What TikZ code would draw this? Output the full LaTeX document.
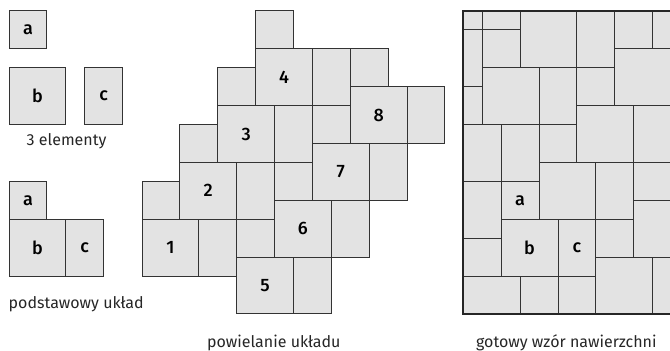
\documentclass[tikz,border=0pt]{standalone}
\usepackage{fontspec}
\setmainfont{Fira Sans}
\usepackage{tikz}

% one set of tiles: a on top of b, c to the right of b
\newcommand{\uklad}[6]{
  \node[tile,tilea] (a#1) at (#2,{#3+3}) {#4};
  \node[tile,tileb] (b#1) at (#2,#3) {#5};
  \node[tile,tilec] (c#1) at ({#2+3},#3) {#6};
}

\begin{document}
\begin{tikzpicture}[
  x=14.2pt, y=14.2pt,
  tile/.style={draw=black!80,fill=black!11,line width=0.75pt,anchor=south west,inner sep=0pt,outer sep=0pt,font=\fontsize{13.5}{13.5}\selectfont\fontspec{Fira Sans Medium}},
  tilea/.style={minimum width=28.4pt,minimum height=28.4pt},
  tileb/.style={minimum width=42.6pt,minimum height=42.6pt},
  tilec/.style={minimum width=28.4pt,minimum height=42.6pt},
  caption/.style={font=\fontsize{12}{12}\selectfont,text=black!85,inner sep=0pt}
]
\useasboundingbox (0,0) rectangle (502.5pt,262.5pt);
% loose elements
\begin{scope}[xshift=6.75pt,yshift=55.5pt]
  \node[tile,tilea] (a0) at (0,12) {a};
  \node[tile,tileb] (b0) at (0,8) {b};
  \node[tile,tilec] (c0) at (4,8) {c};
  \node[caption] (elementy) at (3.04,7.13) {3 elementy};
\end{scope}
% base layout
\begin{scope}[xshift=6.75pt,yshift=55.5pt]
  \uklad{1}{0}{0}{a}{b}{c}
  \node[caption] (podstawowy) at (3.55,-1.48) {podstawowy układ};
\end{scope}
% repeated layout
\begin{scope}[xshift=106.5pt,yshift=55.5pt]
  \foreach \n/\i/\j/\lab in {1/0/0/1,2/2/3/2,3/4/6/3,4/6/9/4,5/5/-2/5,6/7/1/6,7/9/4/7,8/11/7/8} {
    \uklad{m\n}{\i}{\j}{}{\lab}{}
  }
  \node[caption] (powielanie) at (6.96,-3.52) {powielanie układu};
\end{scope}
% finished pattern
\begin{scope}[xshift=347.5pt,yshift=27pt]
  \begin{scope}
    \clip (0,0) rectangle (10.92,16);
    \foreach \n/\i/\j in {1/0/-1,3/4/5,4/6/8,5/8/11,6/10/14,7/-3/4,8/-1/7,9/1/10,10/3/13,11/-2/15,12/-4/12,13/5/-3,14/7/0,15/9/3,16/11/6} {
      \uklad{r\n}{\i}{\j}{}{}{}
    }
    \uklad{r2}{2}{2}{a}{b}{c}
  \end{scope}
  \draw[line width=1.5pt,draw=black!85] (10.92,16) -- (0,16) -- (0,0) -- (10.92,0);
  \node[caption] (gotowy) at (5.44,-1.53) {gotowy wzór nawierzchni};
\end{scope}
\end{tikzpicture}
\end{document}
